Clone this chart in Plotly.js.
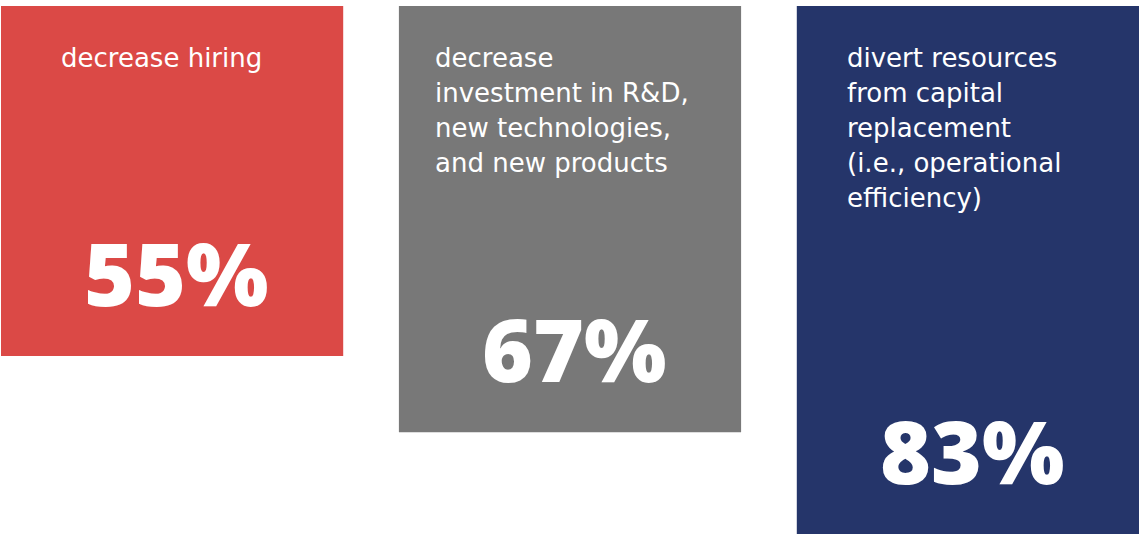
<!DOCTYPE html>
<html>
<head>
<meta charset="utf-8">
<script src="https://cdn.plot.ly/plotly-3.0.1.min.js"></script>
<style>html,body{margin:0;padding:0;background:#fff;}#chart{width:1139px;height:534px;}</style>
</head>
<body>
<div id="chart"></div>
<script>
const categories = ["decrease hiring", "decrease investment in R&D, new technologies, and new products", "divert resources from capital replacement (i.e., operational efficiency)"];
const labelLines = [
  ["decrease hiring"],
  ["decrease", "investment in R&D,", "new technologies,", "and new products"],
  ["divert resources", "from capital", "replacement", "(i.e., operational", "efficiency)"]
];
const values = [55, 67, 83];
const colors = ["#DB4946", "#787878", "#25356A"];

const xIdx = categories.map((c, i) => i);
const labelOffsetPx = [-113, -137, -123];

const annotations = [];
labelLines.forEach((lines, i) => {
  lines.forEach((ln, j) => {
    annotations.push({
      x: xIdx[i], y: 0, xref: 'x', yref: 'y',
      text: ln, showarrow: false,
      xanchor: 'left', yanchor: 'middle',
      xshift: labelOffsetPx[i], yshift: -(52 + 35 * j),
      font: {family: 'DejaVu Sans, sans-serif', size: 26, color: '#ffffff'}
    });
  });
});
values.forEach((v, i) => {
  annotations.push({
    x: xIdx[i], y: v, xref: 'x', yref: 'y',
    text: v + '%', showarrow: false,
    xanchor: 'center', yanchor: 'middle',
    xshift: 4, yshift: 84,
    font: {family: 'Open Sans, sans-serif', size: 87, color: '#ffffff', weight: 800}
  });
});

Plotly.newPlot('chart', [{
  type: 'bar',
  x: xIdx,
  y: values,
  width: 0.86,
  marker: {color: colors, line: {width: 0}},
  hoverinfo: 'skip'
}], {
  width: 1139, height: 534,
  margin: {l: 1, r: 0, t: 6, b: 0, pad: 0},
  paper_bgcolor: '#ffffff', plot_bgcolor: '#ffffff',
  showlegend: false,
  xaxis: {range: [-0.43, 2.43], visible: false, fixedrange: true},
  yaxis: {range: [83, 0], visible: false, fixedrange: true},
  annotations: annotations
}, {displayModeBar: false, staticPlot: true});
</script>
</body>
</html>
